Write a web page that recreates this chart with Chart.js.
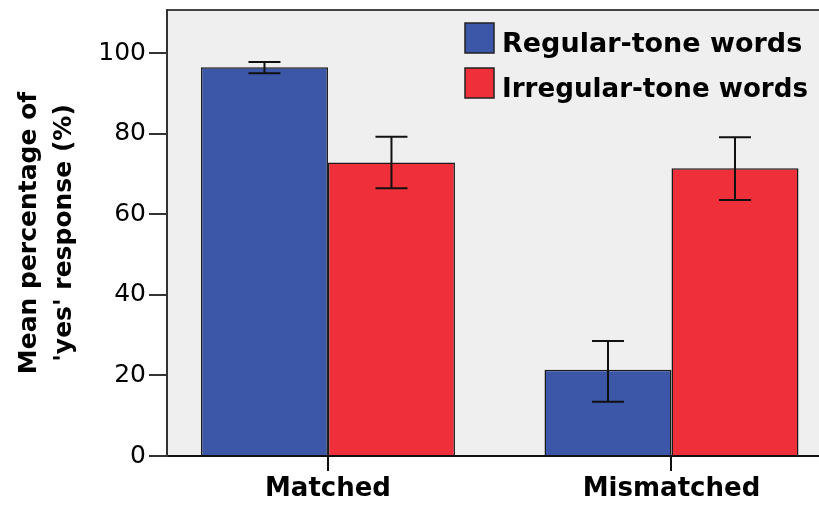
<!DOCTYPE html>
<html>
<head>
<meta charset="utf-8">
<script src="https://cdn.jsdelivr.net/npm/chart.js@4.4.1/dist/chart.umd.min.js"></script>
<style>
    html, body { margin: 0; padding: 0; background: #fff; overflow: hidden; }
</style>
</head>
<body>
<canvas id="mycanvas" width="819" height="505"></canvas>
<script>
// Data
var categories = ['Matched', 'Mismatched'];
var seriesNames = ['Regular-tone words', 'Irregular-tone words'];
var regularMean = [96.6, 21.4];
var regularLow = [95.1, 13.5];
var regularHigh = [97.9, 28.6];
var irregularMean = [72.9, 71.5];
var irregularLow = [66.5, 63.6];
var irregularHigh = [79.3, 79.2];
var yTicks = [0, 20, 40, 60, 80, 100];
var xTicks = [0, 1];

Chart.defaults.font.family = '"DejaVu Sans", sans-serif';
Chart.defaults.color = '#000';

function points(values) {
    return values.map(function(v, i) { return { x: i, y: v }; });
}

// Grey plot background and top frame line
var plotBox = {
    id: 'plotBox',
    beforeDraw: function(chart) {
        var a = chart.chartArea, ctx = chart.ctx;
        ctx.save();
        ctx.fillStyle = '#efefef';
        ctx.fillRect(a.left, a.top, a.right - a.left, a.bottom - a.top);
        ctx.strokeStyle = '#444';
        ctx.lineWidth = 2;
        ctx.beginPath();
        ctx.moveTo(a.left, a.top);
        ctx.lineTo(a.right, a.top);
        ctx.stroke();
        ctx.restore();
    }
};

// Error bars
var errorBars = {
    id: 'errorBars',
    afterDatasetsDraw: function(chart) {
        var ctx = chart.ctx, y = chart.scales.y;
        ctx.save();
        ctx.strokeStyle = '#111';
        ctx.lineWidth = 2;
        chart.data.datasets.forEach(function(ds, d) {
            chart.getDatasetMeta(d).data.forEach(function(bar, i) {
                var top = y.getPixelForValue(ds.errHigh[i]);
                var bot = y.getPixelForValue(ds.errLow[i]);
                ctx.beginPath();
                ctx.moveTo(bar.x, top);
                ctx.lineTo(bar.x, bot);
                ctx.moveTo(bar.x - 16, top);
                ctx.lineTo(bar.x + 16, top);
                ctx.moveTo(bar.x - 16, bot);
                ctx.lineTo(bar.x + 16, bot);
                ctx.stroke();
            });
        });
        ctx.restore();
    }
};

// Legend inside the plot, top right
var boxLegend = {
    id: 'boxLegend',
    afterDraw: function(chart) {
        var ctx = chart.ctx;
        ctx.save();
        ctx.font = 'bold 27px "DejaVu Sans"';
        ctx.textBaseline = 'alphabetic';
        chart.data.datasets.forEach(function(ds, i) {
            var top = 23 + i * 45;
            ctx.fillStyle = ds.backgroundColor;
            ctx.fillRect(465, top, 29, 30);
            ctx.strokeStyle = '#222';
            ctx.lineWidth = 1.5;
            ctx.strokeRect(465, top, 29, 30);
            ctx.fillStyle = '#000';
            ctx.fillText(ds.label, 502, top + 29, 306);
        });
        ctx.restore();
    }
};

var ctx = document.getElementById('mycanvas');

var barGraph = new Chart(ctx, {
    type: 'bar',
    data: {
        datasets: [{
            label: seriesNames[0],
            data: points(regularMean),
            errLow: regularLow,
            errHigh: regularHigh,
            backgroundColor: '#3d57a8',
            borderColor: '#1a1a1a',
            borderWidth: 1.5
        }, {
            label: seriesNames[1],
            data: points(irregularMean),
            errLow: irregularLow,
            errHigh: irregularHigh,
            backgroundColor: '#ef303a',
            borderColor: '#1a1a1a',
            borderWidth: 1.5
        }]
    },
    options: {
        responsive: false,
        animation: false,
        layout: { padding: { top: 10, left: 0, right: 0, bottom: 0 } },
        categoryPercentage: 0.7394,
        barPercentage: 1,
        plugins: {
            legend: { display: false },
            tooltip: { enabled: false }
        },
        scales: {
            x: {
                type: 'linear',
                offset: false,
                min: -0.4686,
                max: 1.4294,
                afterBuildTicks: function(s) {
                    s.ticks = xTicks.map(function(v) { return { value: v }; });
                },
                afterFit: function(s) {
                    s.height = 49;
                    s.paddingLeft = 0;
                    s.paddingRight = 0;
                },
                grid: { offset: false, drawOnChartArea: false, drawTicks: true, tickLength: 15, color: '#111', lineWidth: 2 },
                border: { display: true, color: '#111', width: 2 },
                ticks: {
                    autoSkip: false,
                    maxRotation: 0,
                    padding: 3,
                    font: { size: 26, weight: 'bold' },
                    callback: function(v) { return categories[v]; }
                }
            },
            y: {
                min: 0,
                max: 110.8,
                afterBuildTicks: function(s) {
                    s.ticks = yTicks.map(function(v) { return { value: v }; });
                },
                afterFit: function(s) {
                    s.width = 167;
                    s.paddingTop = 0;
                    s.paddingBottom = 0;
                },
                grid: { drawOnChartArea: false, drawTicks: true, tickLength: 18, color: '#333', lineWidth: 2 },
                border: { display: true, color: '#333', width: 2 },
                ticks: { padding: 3, font: { size: 25 } },
                title: {
                    display: true,
                    text: ['Mean percentage of', "'yes' response (%)"],
                    font: { size: 25, weight: 'bold', lineHeight: 1.4 },
                    padding: { top: 12, bottom: 0 }
                }
            }
        }
    },
    plugins: [plotBox, errorBars, boxLegend]
});
</script>
</body>
</html>
